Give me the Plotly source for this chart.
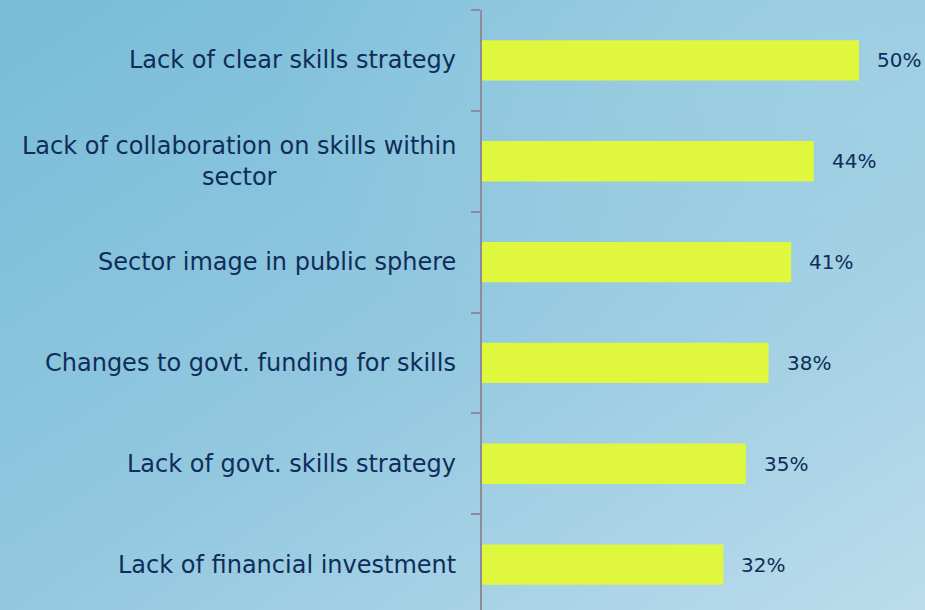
import base64
import plotly.graph_objects as go

categories = [
    "Lack of clear skills strategy",
    "Lack of collaboration on skills within<br>sector",
    "Sector image in public sphere",
    "Changes to govt. funding for skills",
    "Lack of govt. skills strategy",
    "Lack of financial investment",
]
values = [50, 44, 41, 38, 35, 32]
value_labels = ["50%", "44%", "41%", "38%", "35%", "32%"]

# bottom-to-top order for the categorical axis
cats_bt = categories[::-1]
vals_bt = values[::-1]
labs_bt = value_labels[::-1]

W, H = 925, 610
ML, MR, MT, MB = 482, 0, 10, 0
PW, PH = W - ML - MR, H - MT - MB
TEXT = "#0f2d5a"
FONT = "DejaVu Sans"

svg = f"""<svg xmlns='http://www.w3.org/2000/svg' width='{W}' height='{H}' viewBox='0 0 {W} {H}' preserveAspectRatio='none'>
<defs>
<linearGradient id='g' x1='0' y1='0' x2='1' y2='1'>
<stop offset='0' stop-color='#78bcd8'/>
<stop offset='0.5' stop-color='#92c8df'/>
<stop offset='1' stop-color='#bcdcec'/>
</linearGradient>
<radialGradient id='r' cx='0.9' cy='0.1' r='0.6'>
<stop offset='0' stop-color='#a6d4e4' stop-opacity='0.6'/>
<stop offset='1' stop-color='#a6d4e4' stop-opacity='0'/>
</radialGradient>
</defs>
<rect width='{W}' height='{H}' fill='url(#g)'/>
<rect width='{W}' height='{H}' fill='url(#r)'/>
</svg>"""
bg_uri = "data:image/svg+xml;base64," + base64.b64encode(svg.encode()).decode()

fig = go.Figure()
fig.add_trace(go.Bar(
    x=vals_bt, y=cats_bt, orientation="h",
    marker=dict(color="#dff73c", line=dict(width=0)),
    hoverinfo="skip",
))

annotations = []
for c, v, l in zip(cats_bt, vals_bt, labs_bt):
    annotations.append(dict(
        x=v, y=c, xref="x", yref="y", text=l, showarrow=False,
        xanchor="left", xshift=16, font=dict(family=FONT, size=20, color=TEXT),
    ))
    annotations.append(dict(
        x=0, y=c, xref="x", yref="y", text=c, showarrow=False,
        xanchor="right", xshift=-24, align="center",
        font=dict(family=FONT, size=24, color=TEXT),
    ))

fig.update_layout(
    width=W, height=H,
    margin=dict(l=ML, r=MR, t=MT, b=MB, pad=0),
    paper_bgcolor="#8fc6de",
    plot_bgcolor="rgba(0,0,0,0)",
    bargap=0.6,
    showlegend=False,
    annotations=annotations,
    images=[dict(source=bg_uri, xref="paper", yref="paper",
                 x=-ML / PW, y=1 + MT / PH,
                 sizex=W / PW, sizey=H / PH, xanchor="left", yanchor="top",
                 sizing="stretch", layer="below")],
    xaxis=dict(range=[0, 58.75], visible=False, fixedrange=True),
    yaxis=dict(
        type="category", categoryorder="array", categoryarray=cats_bt,
        range=[-0.45, 5.5], showticklabels=False,
        showline=True, linecolor="#8c8c9c", linewidth=1.5,
        ticks="outside", ticklen=9, tickcolor="#8c8c9c", tickwidth=1.5,
        tickson="boundaries", showgrid=False, zeroline=False, fixedrange=True,
    ),
)

fig.write_html(
    "out.html",
    config={"displayModeBar": False},
    post_script="document.body.style.margin='0';document.body.style.overflow='hidden';",
)
